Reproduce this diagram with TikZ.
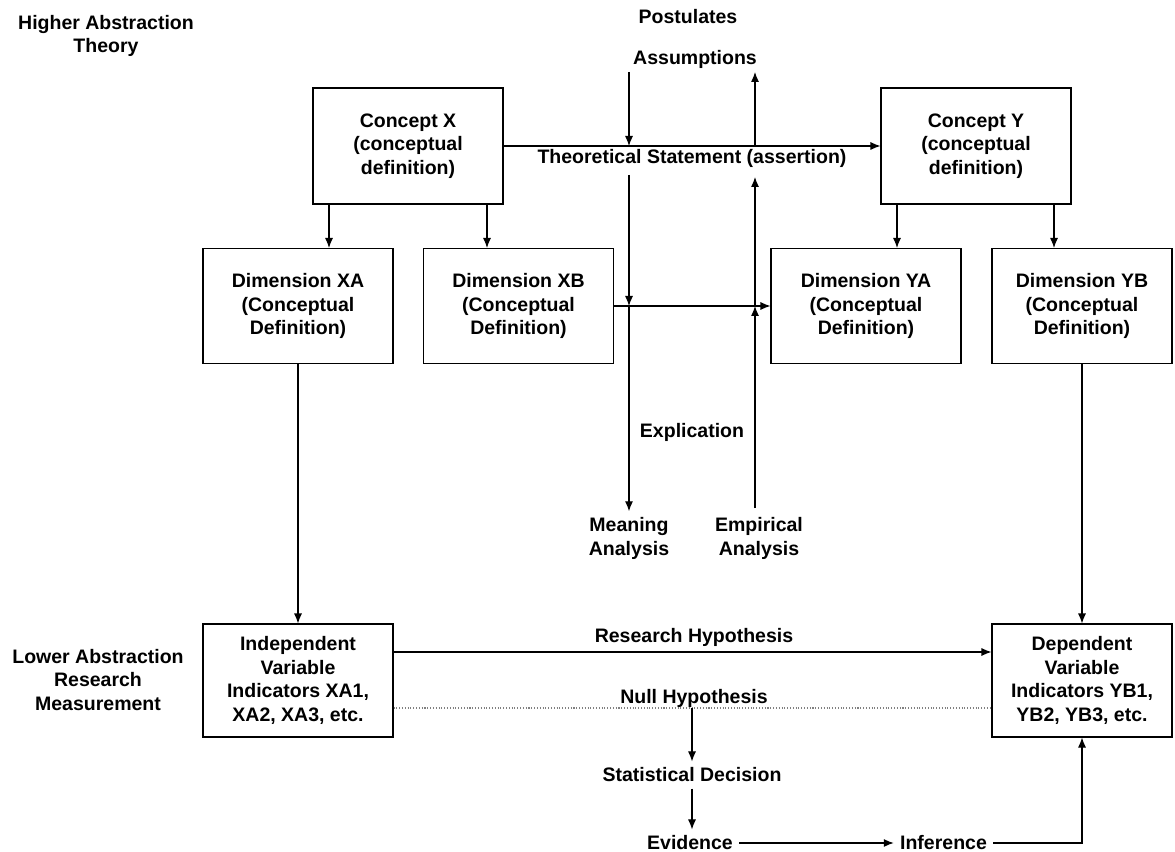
\documentclass[tikz,border=0pt]{standalone}
\usepackage{fontspec}
\setmainfont{Liberation Sans}
\usetikzlibrary{arrows.meta}

\begin{document}
\begin{tikzpicture}[>={Latex[length=2mm,width=1.6mm]}, line width=0.6pt,
    every node/.style={font=\bfseries\fontsize{11.1}{13.4}\selectfont, align=center},
    box/.style={draw, minimum width=3.8cm, minimum height=2.3cm},
    boxr/.style={box, minimum width=3.6cm}]
    \useasboundingbox (0, 0) rectangle (23.5, -17.04);

    \node at (2.12, -0.72) (higher) {Higher Abstraction\\Theory};
    \node at (1.96, -13.6) (lower) {Lower Abstraction\\Research\\Measurement};

    \node at (13.76, -0.34) (post) {Postulates};
    \node at (13.9, -1.18) (assum) {Assumptions};

    \node[box, minimum height=2.32cm] at (8.16, -2.92) (conX) {Concept X\\(conceptual\\definition)};
    \node[box, minimum height=2.32cm] at (19.52, -2.92) (conY) {Concept Y\\(conceptual\\definition)};
    \node at (13.84, -3.16) (theo) {Theoretical Statement (assertion)};

    \node[box] at (5.96, -6.12) (dimXA) {Dimension XA\\(Conceptual\\Definition)};
    \node[box] at (10.37, -6.12) (dimXB) {Dimension XB\\(Conceptual\\Definition)};
    \node[box] at (17.32, -6.12) (dimYA) {Dimension YA\\(Conceptual\\Definition)};
    \node[boxr] at (21.64, -6.12) (dimYB) {Dimension YB\\(Conceptual\\Definition)};

    \node at (13.84, -8.64) (expl) {Explication};
    \node at (12.58, -10.77) (meaning) {Meaning\\Analysis};
    \node at (15.18, -10.77) (empir) {Empirical\\Analysis};

    \node[box, minimum height=2.26cm] at (5.96, -13.61) (indep) {Independent\\Variable\\Indicators XA1,\\XA2, XA3, etc.};
    \node[boxr, minimum height=2.26cm] at (21.64, -13.61) (dep) {Dependent\\Variable\\Indicators YB1,\\YB2, YB3, etc.};
    \node at (13.88, -12.74) (research) {Research Hypothesis};
    \node at (13.88, -13.96) (null) {Null Hypothesis};

    \node at (13.84, -15.5) (stat) {Statistical Decision};
    \node at (13.8, -16.86) (evid) {Evidence};
    \node at (18.87, -16.86) (infer) {Inference};

    \coordinate (as_in) at (12.58, -1.44);
    \coordinate (as_out) at (15.1, -1.44);
    \coordinate (ts_in) at (12.58, -2.92);
    \coordinate (ts_out) at (15.1, -2.92);
    \coordinate (tb_in) at (12.58, -3.5);
    \coordinate (tb_out) at (15.1, -3.54);
    \coordinate (ex_in) at (12.58, -6.12);
    \coordinate (ex_out) at (15.1, -6.12);
    \coordinate (em_top) at (15.1, -10.16);
    \coordinate (nl) at (13.84, -14.16);

    \draw[->] (conX) -- (conY);
    \draw[->] (as_in) -- (ts_in);
    \draw[->] (ts_out) -- (as_out);
    \draw[->] (tb_in) -- (ex_in);
    \draw[->] (ex_in) -- (meaning);
    \draw[->] (em_top) -- (ex_out);
    \draw[->] (ex_out) -- (tb_out);
    \draw[->] (dimXB) -- (dimYA);

    \draw[->] ([xshift=-1.58cm]conX.south) -- ([xshift=-1.58cm]conX.south |- dimXA.north);
    \draw[->] ([xshift=1.58cm]conX.south) -- ([xshift=1.58cm]conX.south |- dimXB.north);
    \draw[->] ([xshift=-1.58cm]conY.south) -- ([xshift=-1.58cm]conY.south |- dimYA.north);
    \draw[->] ([xshift=1.56cm]conY.south) -- ([xshift=1.56cm]conY.south |- dimYB.north);

    \draw[->] (dimXA) -- (indep);
    \draw[->] (dimYB) -- (dep);
    \draw[->] ([yshift=0.57cm]indep.east) -- ([yshift=0.57cm]dep.west);
    \draw[gray, densely dotted] ([yshift=-0.55cm]indep.east) -- ([yshift=-0.55cm]dep.west);
    \draw[->] (nl) -- (nl |- stat.north);
    \draw[->] (stat) -- (stat |- evid.north);
    \draw[->] (evid) -- (infer);
    \draw[->] (infer) -| (dep);
\end{tikzpicture}
\end{document}
